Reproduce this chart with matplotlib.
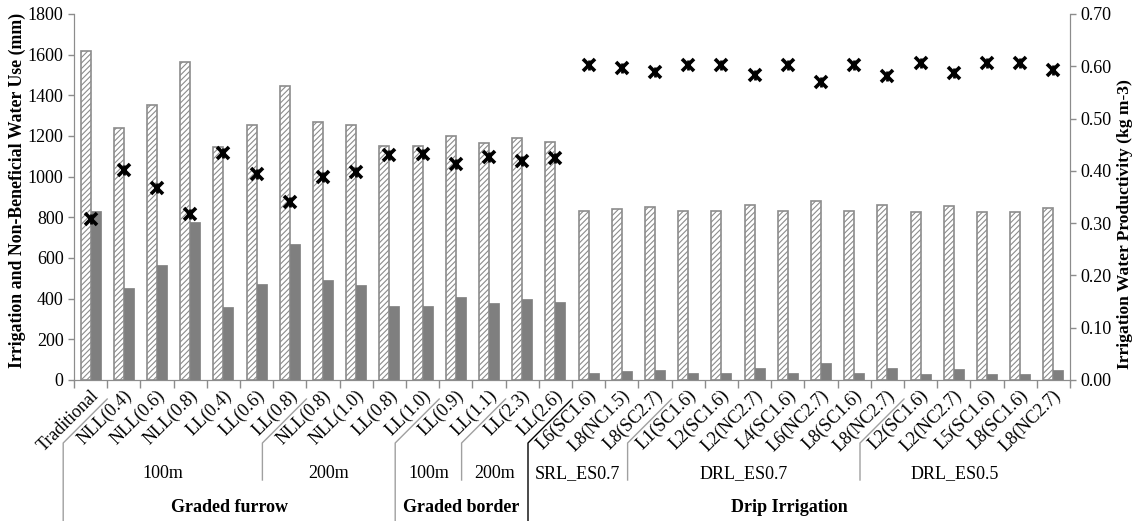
import matplotlib
matplotlib.use("Agg")
import matplotlib.pyplot as plt
import numpy as np
from matplotlib.transforms import blended_transform_factory

plt.rcParams['font.family'] = ['Liberation Serif', 'DejaVu Serif']
plt.rcParams['hatch.linewidth'] = 0.8

# ---- data ----
categories = ["Traditional",
              "NLL(0.4)", "NLL(0.6)", "NLL(0.8)", "LL(0.4)", "LL(0.6)", "LL(0.8)",
              "NLL(0.8)", "NLL(1.0)", "LL(0.8)", "LL(1.0)",
              "LL(0.9)", "LL(1.1)",
              "LL(2.3)", "LL(2.6)",
              "L6(SC1.6)", "L8(NC1.5)", "L8(SC2.7)",
              "L1(SC1.6)", "L2(SC1.6)", "L2(NC2.7)", "L4(SC1.6)", "L6(NC2.7)", "L8(SC1.6)", "L8(NC2.7)",
              "L2(SC1.6)", "L2(NC2.7)", "L5(SC1.6)", "L8(SC1.6)", "L8(NC2.7)"]

irrigation = [1618, 1238, 1352, 1562, 1147, 1252, 1446, 1267, 1254, 1152, 1151,
              1200, 1166, 1190, 1171,
              831, 841, 849, 831, 831, 859, 831, 882, 831, 861, 826, 854, 826, 826, 848]

non_beneficial = [833, 451, 566, 779, 359, 474, 669, 492, 467, 365, 365,
                  408, 379, 398, 385,
                  33, 42, 50, 33, 33, 58, 33, 82, 33, 60, 29, 54, 28, 28, 48]

iwp = [0.308, 0.402, 0.367, 0.318, 0.434, 0.394, 0.341, 0.389, 0.397, 0.430, 0.432,
       0.414, 0.426, 0.419, 0.424,
       0.602, 0.596, 0.590, 0.602, 0.602, 0.583, 0.602, 0.569, 0.602, 0.582,
       0.606, 0.587, 0.606, 0.606, 0.592]

# second level groups: (label, first index, last index)
sub_groups = [("100m", 1, 6), ("200m", 7, 10), ("100m", 11, 12), ("200m", 13, 14),
              ("SRL_ES0.7", 15, 17), ("DRL_ES0.7", 18, 24), ("DRL_ES0.5", 25, 29)]
main_groups = [("Graded furrow", 1, 10), ("Graded border", 11, 14), ("Drip Irrigation", 15, 29)]

# ---- figure ----
W, H = 1146, 521
fs = 13
fig = plt.figure(figsize=(W / 100, H / 100), dpi=100)
ax = fig.add_axes([74 / W, 1 - 380 / H, (1070 - 74) / W, (380 - 14) / H])
ax2 = ax.twinx()

x = np.arange(len(categories))
bw = 0.3
grey = "#8c8c8c"
ax.bar(x - bw / 2, irrigation, bw, color="white", edgecolor=grey, hatch="//////",
       linewidth=1.2, zorder=2)
ax.bar(x + bw / 2, non_beneficial, bw, color="#7f7f7f", edgecolor="#7f7f7f",
       linewidth=0.5, zorder=2)

ax2.plot(x, iwp, ls="none", marker="x", ms=8, mew=2.6, color="black", zorder=3)
ax2.plot(x, iwp, ls="none", marker="|", ms=7, mew=2.0, color="black", zorder=3)

ax.set_xlim(-0.5, len(categories) - 0.5)
ax.set_ylim(0, 1800)
ax.set_yticks(np.arange(0, 1801, 200))
ax2.set_ylim(0, 0.7)
ax2.set_yticks(np.arange(0, 0.71, 0.1))
ax2.set_yticklabels([f"{v:.2f}" for v in np.arange(0, 0.71, 0.1)])

ax.set_xticks(np.arange(-0.5, len(categories), 1.0))
ax.set_xticklabels([])

for a in (ax, ax2):
    for s in a.spines.values():
        s.set_color(grey)
    a.spines['top'].set_visible(False)
    a.tick_params(colors=grey, labelcolor="black", labelsize=fs, length=4, width=1)
ax.tick_params(axis='x', length=6)

# axis titles placed in figure pixels
fig.text(17.5 / W, 1 - 190 / H, "Irrigation and Non-Beneficial Water Use (mm)",
         rotation=90, ha="center", va="center", fontsize=12.8, fontweight="bold")
fig.text(1125 / W, 1 - 224 / H, "Irrigation Water Productivity (kg m-3)",
         rotation=90, ha="center", va="center", fontsize=12.6, fontweight="bold")

# ---- multi-level category axis ----
px = len(categories) / (1070 - 74)      # data units per pixel along x
tr = blended_transform_factory(ax.transData, fig.transFigure)


def fy(ypix):
    return 1 - ypix / H


for i, lab in enumerate(categories):
    ax.text(i + 5.3 * px, fy(392.7), lab, transform=tr, rotation=45,
            rotation_mode="anchor", ha="right", va="center", fontsize=fs)

slant = 44 * px
level1 = [0.5, 10.5, 14.5]
level2 = [6.5, 12.5, 17.5, 24.5]
for b in level1 + level2:
    bottom = 521 if b in level1 else 480
    c = "black" if b == 14.5 else "#a0a0a0"
    ax.plot([b, b - slant, b - slant], [fy(399), fy(443), fy(bottom)],
            transform=tr, color=c, lw=1.0, clip_on=False)

right_end = len(categories) - 0.5 - 20 * px


def vline_x(idx_start, idx_end):
    left = idx_start - 0.5 - slant
    right = idx_end + 0.5 - slant if idx_end < len(categories) - 1 else right_end
    return (left + right) / 2


for lab, s, e in sub_groups:
    ax.text(vline_x(s, e), fy(474), lab, transform=tr, ha="center", va="center",
            fontsize=fs)
for lab, s, e in main_groups:
    ax.text(vline_x(s, e), fy(507), lab, transform=tr, ha="center", va="center",
            fontsize=fs, fontweight="bold")

fig.savefig("out.png", dpi=100)
